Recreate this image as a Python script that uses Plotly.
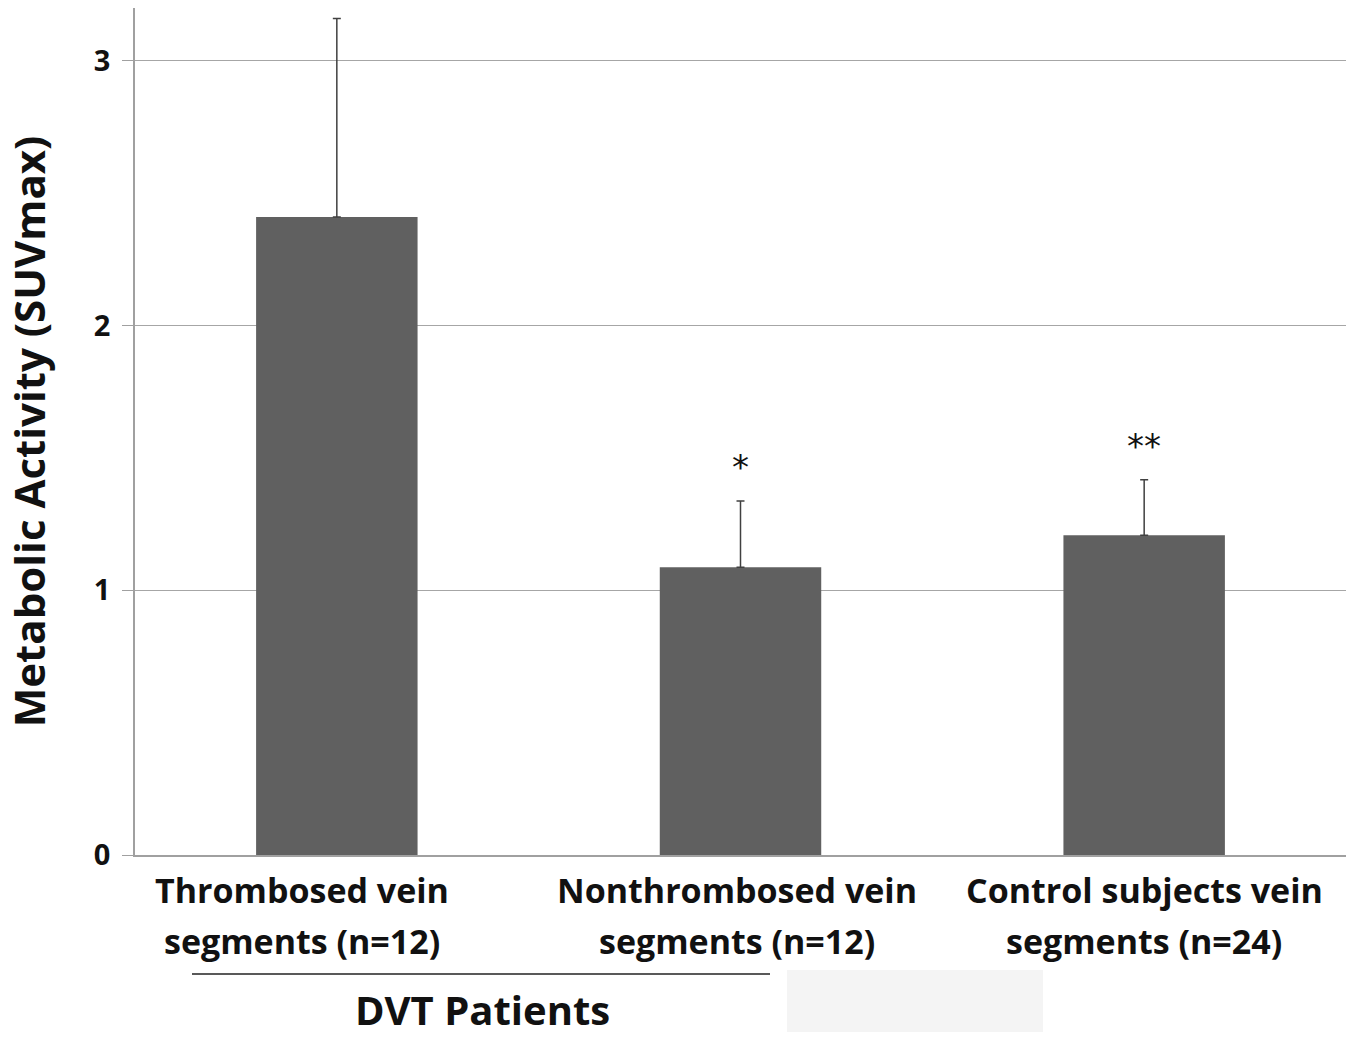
import plotly.graph_objects as go

categories = ["Thrombosed vein segments (n=12)",
              "Nonthrombosed vein segments (n=12)",
              "Control subjects vein segments (n=24)"]
label_line1 = ["Thrombosed vein", "Nonthrombosed vein", "Control subjects vein"]
label_line2 = ["segments (n=12)", "segments (n=12)", "segments (n=24)"]
means = [2.41, 1.087, 1.208]
errors = [0.75, 0.25, 0.21]
significance = ["", "*", "**"]
y_ticks = [0, 1, 2, 3]

FONT = "Open Sans"
label_xshift = [-35, -4, 0]

fig = go.Figure()
fig.add_trace(go.Bar(
    x=categories, y=means,
    width=0.4,
    marker=dict(color="#606060", line=dict(width=0)),
    error_y=dict(type="data", symmetric=False, array=errors, arrayminus=[0]*3,
                 color="#404040", thickness=1.5, width=4),
    showlegend=False,
))

for c, l1, l2, dx in zip(categories, label_line1, label_line2, label_xshift):
    fig.add_annotation(x=c, y=0, xref="x", yref="y", text=l1, showarrow=False,
                       xanchor="center", yanchor="middle", yshift=-35, xshift=dx,
                       font=dict(family=FONT, size=34, color="#111111", weight="bold"))
    fig.add_annotation(x=c, y=0, xref="x", yref="y", text=l2, showarrow=False,
                       xanchor="center", yanchor="middle", yshift=-86, xshift=dx,
                       font=dict(family=FONT, size=34, color="#111111", weight="bold"))

for c, m, e, s in zip(categories, means, errors, significance):
    if s:
        fig.add_annotation(x=c, y=m + e, xref="x", yref="y", text=s, showarrow=False,
                           xanchor="center", yanchor="bottom", yshift=12,
                           font=dict(family="DejaVu Sans", size=34, color="#111111"))

# DVT Patients group bracket
fig.add_shape(type="line", xref="paper", yref="paper",
              x0=(192-135)/1211, x1=(770-135)/1211, y0=-(974-855)/847, y1=-(974-855)/847,
              line=dict(color="#222222", width=1.5))
fig.add_annotation(xref="paper", yref="paper", x=(482-135)/1211, y=-(1010-855)/847,
                   text="DVT Patients", showarrow=False, xanchor="center", yanchor="middle",
                   font=dict(family=FONT, size=40, color="#111111", weight="bold"))
# faint grey box artifact
fig.add_shape(type="rect", xref="paper", yref="paper",
              x0=(787-135)/1211, x1=(1043-135)/1211, y0=-(970-855)/847, y1=-(1032-855)/847,
              line=dict(width=0), fillcolor="#f4f4f4", layer="below")

fig.update_layout(
    width=1354, height=1040,
    margin=dict(l=135, r=8, t=8, b=185),
    plot_bgcolor="white", paper_bgcolor="white",
    bargap=0.6,
)
fig.update_xaxes(showticklabels=False, showline=True, linecolor="#a0a0a0", linewidth=1.5,
                 ticks="", showgrid=False)
fig.update_yaxes(range=[0, 3.2], tickvals=y_ticks, showgrid=True, gridcolor="#a6a6a6",
                 gridwidth=1.2, showline=True, linecolor="#a0a0a0", linewidth=1.5,
                 ticks="outside", ticklen=11, tickcolor="#a0a0a0", tickwidth=1.2,
                 ticklabelstandoff=6, zeroline=False,
                 tickfont=dict(family=FONT, size=29, color="#111111", weight="bold"),
                 title=dict(text="Metabolic Activity (SUVmax)", standoff=42,
                            font=dict(family=FONT, size=42, color="#111111", weight="bold")))

fig.write_html("out.html", config={"displayModeBar": False},
               post_script="document.body.style.margin='0';document.body.style.overflow='hidden';")
